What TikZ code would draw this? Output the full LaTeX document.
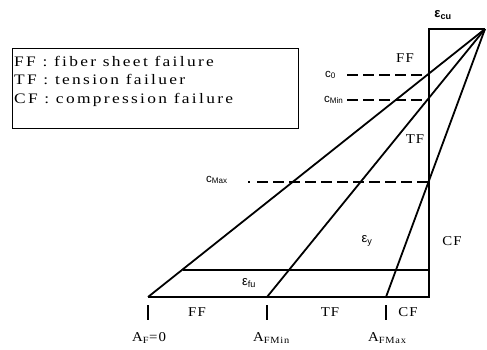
\documentclass[tikz,border=0pt]{standalone}
\usepackage{fontspec}
\setmainfont{Liberation Serif}
\newfontfamily\lsans{Liberation Sans}
\newfontfamily\wideserif[FakeStretch=1.2,LetterSpace=16]{Liberation Serif}
\newfontfamily\midserif[FakeStretch=1.1,LetterSpace=8]{Liberation Serif}
\begin{document}
\begin{tikzpicture}[x=1pt,y=-1pt,
  ln/.style={line width=1.8pt},
  dsh/.style={line width=1.6pt,dash pattern=on 11pt off 5pt},
  lbl/.style={font=\midserif\fontsize{13.5}{13.5}\selectfont,inner sep=0pt},
  cl/.style={font=\lsans\fontsize{11.5}{11.5}\selectfont,inner sep=0pt}]
\useasboundingbox (0,0) rectangle (487,350);
% key points
\coordinate (apex) at (485,29);
\coordinate (tl) at (429,29);
\coordinate (vb) at (429,297);
\coordinate (a0) at (148,297);
\coordinate (amin) at (267,297);
\coordinate (amax) at (386,297);
\coordinate (fuL) at (183,270);
\coordinate (fuR) at (429,270);
\coordinate (c0p) at (429,75);
\coordinate (cminp) at (429,100);
\coordinate (cmaxp) at (429,182);
% strain profile frame
\draw[ln] (apex) -- (tl) -- (vb) -- (a0);
\draw[ln] (fuL) -- (fuR);
% lines from apex
\draw[ln] (apex) -- (a0);
\draw[ln] (apex) -- (amin);
\draw[ln] (apex) -- (amax);
% legend
\node[draw,line width=1.3pt,minimum width=286pt,minimum height=80pt,anchor=north west,inner sep=0pt] (leg) at (12,48) {};
\node[anchor=west,align=left,inner sep=0pt,font=\wideserif\fontsize{14.5}{18.5}\selectfont] (legt) at (14,81) {FF : fiber sheet failure\\TF : tension failuer\\CF : compression failure};
% labels
\node[font=\lsans\bfseries\fontsize{13}{13}\selectfont,inner sep=0pt] (ecu) at (443,15) {ε\textsubscript{cu}};
\node[lbl] (ff1) at (405,58) {FF};
\node[lbl] (tf1) at (415,139) {TF};
\node[lbl] (cf1) at (452,241) {CF};
\node[cl,anchor=west] (c0) at (325,75) {c\textsubscript{0}};
\node[cl,anchor=west] (cmin) at (324,100) {c\textsubscript{Min}};
\node[cl,anchor=west] (cmax) at (206,180) {c\textsubscript{Max}};
\draw[dsh] (347,75) -- (c0p);
\draw[dsh] (347,100) -- (cminp);
\draw[line width=1.6pt] (248,182) -- (250,182);
\draw[dsh] (257,182) -- (cmaxp);
\node[cl,font=\lsans\fontsize{13}{13}\selectfont] (ey) at (367,241) {ε\textsubscript{y}};
\node[cl,font=\lsans\fontsize{13}{13}\selectfont] (efu) at (249,283) {ε\textsubscript{fu}};
% bottom labels
\node[lbl] (ff2) at (197,312) {FF};
\node[lbl] (tf2) at (330,312) {TF};
\node[lbl] (cf2) at (408,312) {CF};
\draw[ln] (148,305) -- (148,320);
\draw[ln] (267,305) -- (267,320);
\draw[ln] (386,305) -- (386,320);
\node[lbl,anchor=base west] (af0) at (132,341) {A\textsubscript{F}=0};
\node[lbl,anchor=base west] (afmin) at (253,341) {A\textsubscript{FMin}};
\node[lbl,anchor=base west] (afmax) at (368,341) {A\textsubscript{FMax}};
\end{tikzpicture}
\end{document}
